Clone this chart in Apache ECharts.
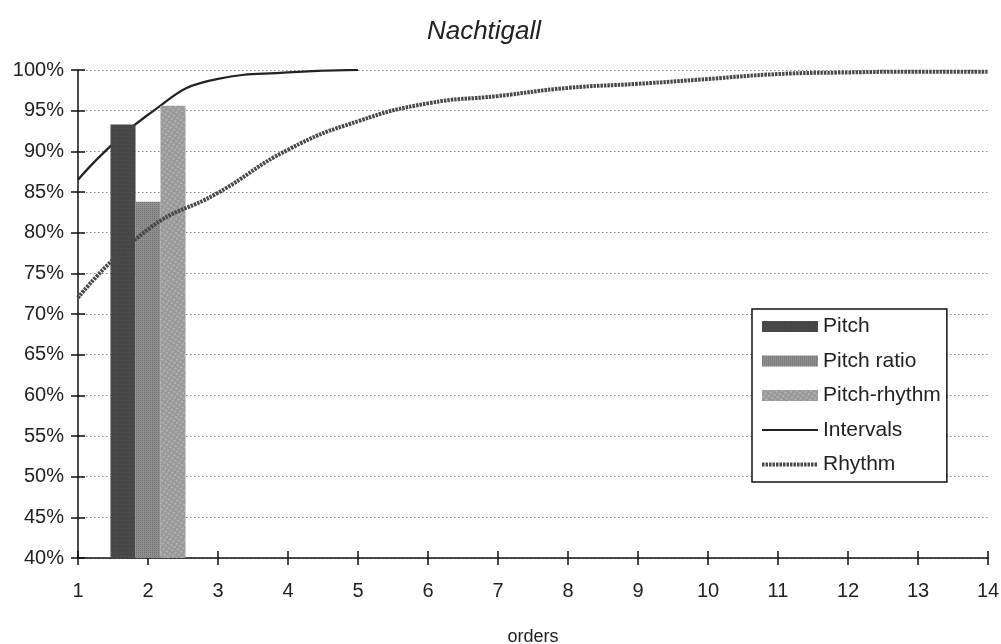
<!DOCTYPE html>
<html>
<head>
<meta charset="utf-8">
<script src="https://cdn.jsdelivr.net/npm/echarts@6/dist/echarts.min.js"></script>
<style>html,body{margin:0;padding:0;background:#fff;}#c{width:1001px;height:644px;}</style>
</head>
<body>
<div id="c"></div>
<script>
const orders = ['1','2','3','4','5','6','7','8','9','10','11','12','13','14'];
const pitch = [null, 93.3, null, null, null, null, null, null, null, null, null, null, null, null];
const pitchRatio = [null, 83.8, null, null, null, null, null, null, null, null, null, null, null, null];
const pitchRhythm = [null, 95.6, null, null, null, null, null, null, null, null, null, null, null, null];
const intervals = [86.5, 94.5, 98.9, 99.7, 100.0];
const rhythm = [72.0, 80.4, 84.9, 90.2, 93.7, 95.9, 96.8, 97.8, 98.3, 98.9, 99.5, 99.7, 99.8, 99.8];
const yTicks = {min: 40, max: 100, step: 5};

const font = 'Liberation Sans, Arial, sans-serif';
const chart = echarts.init(document.getElementById('c'), null, {renderer: 'canvas'});
chart.setOption({
  animation: false,
  backgroundColor: '#ffffff',
  aria: {enabled: true, decal: {show: true}},
  title: {
    text: 'Nachtigall', left: 479, top: 14, textAlign: 'center',
    textStyle: {fontFamily: font, fontStyle: 'italic', fontWeight: 'normal', fontSize: 26, color: '#222'}
  },
  grid: {left: 78, right: 13, top: 70, bottom: 86, containLabel: false, outerBoundsMode: 'none'},
  legend: {
    orient: 'vertical', left: 752, top: 309,
    padding: [7, 6, 7, 8],
    itemWidth: 56, itemHeight: 11, itemGap: 13.5,
    backgroundColor: '#fff', borderColor: '#111', borderWidth: 1.5, borderRadius: 0,
    textStyle: {fontFamily: font, fontSize: 21, color: '#222', lineHeight: 20},
    data: [
      {name: 'Pitch', icon: 'rect'},
      {name: 'Pitch ratio', icon: 'rect'},
      {name: 'Pitch-rhythm', icon: 'rect'},
      {name: 'Intervals', itemStyle: {opacity: 0}, lineStyle: {width: 2}},
      {name: 'Rhythm', itemStyle: {opacity: 0}, lineStyle: {width: 4, type: [2.5, 1]}}]
  },
  xAxis: [{
    type: 'category', data: orders, boundaryGap: false,
    name: 'orders', nameLocation: 'middle', nameGap: 70,
    nameTextStyle: {fontFamily: font, fontSize: 18, color: '#222'},
    axisLine: {lineStyle: {color: '#111', width: 1.5}},
    axisTick: {show: true, alignWithLabel: true, length: 7, lineStyle: {color: '#111', width: 1.5}},
    axisLabel: {fontFamily: font, fontSize: 20, color: '#222', margin: 23, interval: 0},
    splitLine: {show: false}
  }, {
    type: 'category', data: orders, boundaryGap: false, position: 'bottom',
    axisLine: {show: false},
    axisTick: {show: true, inside: true, length: 7, interval: 0, lineStyle: {color: '#111', width: 1.5}},
    axisLabel: {show: false}, splitLine: {show: false}
  }],
  yAxis: [{
    type: 'value', min: yTicks.min, max: yTicks.max, interval: yTicks.step,
    axisLine: {show: true, lineStyle: {color: '#111', width: 1.5}},
    axisTick: {show: true, length: 7, lineStyle: {color: '#111', width: 1.5}},
    axisLabel: {formatter: '{value}%', fontFamily: font, fontSize: 20, color: '#222', margin: 14},
    splitLine: {show: true, lineStyle: {color: '#8a8a8a', type: [1.5, 2.5], width: 1.2}}
  }, {
    type: 'value', min: yTicks.min, max: yTicks.max, interval: yTicks.step, position: 'left',
    axisLine: {show: false},
    axisTick: {show: true, inside: true, length: 7, lineStyle: {color: '#111', width: 1.5}},
    axisLabel: {show: false}, splitLine: {show: false}
  }],
  series: [
    {
      name: 'Intervals', type: 'line', data: intervals, smooth: 0.5,
      symbol: 'none', z: 1,
      lineStyle: {color: '#222', width: 2.2},
      itemStyle: {color: '#222'}
    },
    {
      name: 'Pitch', type: 'bar', data: pitch, barWidth: 25, barGap: '0%', z: 2,
      itemStyle: {color: '#474747', decal: {symbol: 'rect', symbolSize: 1, color: 'rgba(120,120,120,0.3)', dashArrayX: [1, 2], dashArrayY: [1, 3], rotation: 0}}
    },
    {
      name: 'Pitch ratio', type: 'bar', data: pitchRatio, barWidth: 25, barGap: '0%', z: 2,
      itemStyle: {color: '#8e8e8e', decal: {symbol: 'rect', symbolSize: 1, color: 'rgba(60,60,60,0.35)', dashArrayX: [1, 1], dashArrayY: [1, 1], rotation: 0}}
    },
    {
      name: 'Pitch-rhythm', type: 'bar', data: pitchRhythm, barWidth: 25, barGap: '0%', z: 2,
      itemStyle: {color: '#9a9a9a',
        decal: {symbol: 'circle', symbolSize: 0.8, color: 'rgba(220,220,220,0.8)', dashArrayX: [2, 2], dashArrayY: [2, 2], rotation: 0.6}}
    },
    {
      name: 'Rhythm', type: 'line', data: rhythm, smooth: 0.5,
      symbol: 'none', z: 3,
      lineStyle: {color: '#484848', width: 4, type: [2.5, 1]},
      itemStyle: {color: '#484848'}
    }
  ]
});
</script>
</body>
</html>
